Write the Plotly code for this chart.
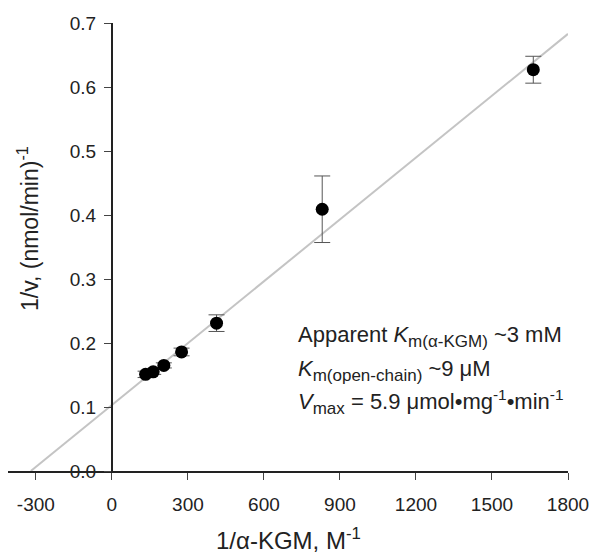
import plotly.graph_objects as go

# Data
inv_kgm = [133, 163, 205, 275, 413, 830, 1663]          # 1/alpha-KGM, M^-1
inv_v = [0.151, 0.155, 0.165, 0.186, 0.231, 0.409, 0.627]  # 1/v, (nmol/min)^-1
inv_v_err = [0.005, 0.004, 0.004, 0.006, 0.013, 0.052, 0.021]

fit_x = [-320, 1800]
fit_y = [0.0, 0.683]

x_ticks = [-300, 0, 300, 600, 900, 1200, 1500, 1800]
y_ticks = [0.0, 0.1, 0.2, 0.3, 0.4, 0.5, 0.6, 0.7]

X_RANGE = [-410, 1800]
Y_RANGE = [0, 0.7]

FONT = "Liberation Sans, Arial, sans-serif"
TXT = "#222222"

fig = go.Figure()
fig.add_trace(go.Scatter(
    x=fit_x, y=fit_y, mode="lines",
    line=dict(color="#c4c4c4", width=2),
    showlegend=False, hoverinfo="skip", cliponaxis=False,
))
fig.add_trace(go.Scatter(
    x=inv_kgm, y=inv_v, mode="markers",
    marker=dict(color="black", size=13),
    error_y=dict(type="data", array=inv_v_err, color="#555555", thickness=1, width=8),
    showlegend=False, cliponaxis=False,
))

yaxis_pos = (0 - X_RANGE[0]) / (X_RANGE[1] - X_RANGE[0])

# The page body has an 8px margin, so the figure is sized/offset to compensate.
fig.update_layout(
    width=593, height=552,
    margin=dict(l=0, r=33, t=15, b=89),
    plot_bgcolor="white", paper_bgcolor="white",
    font=dict(family=FONT, size=19, color=TXT),
    xaxis=dict(
        range=X_RANGE, tickvals=x_ticks, ticktext=[str(v) for v in x_ticks],
        automargin=False,
        showgrid=False, zeroline=False, showline=True, linecolor="#222222", linewidth=2,
        ticks="outside", ticklen=7, tickcolor="#444444", tickwidth=1,
        ticklabelstandoff=8,
        tickfont=dict(size=19, family=FONT, color=TXT),
    ),
    yaxis=dict(
        range=Y_RANGE, tickvals=y_ticks, ticktext=[f"{v:.1f}" for v in y_ticks],
        anchor="free", position=yaxis_pos, automargin=False,
        showgrid=False, zeroline=False, showline=True, linecolor="#222222", linewidth=2,
        ticks="outside", ticklen=7, tickcolor="#444444", tickwidth=1,
        ticklabelstandoff=4,
        tickfont=dict(size=19, family=FONT, color=TXT),
    ),
)


def py(pix):
    # convert a reference pixel row to paper coordinate
    return (471 - pix) / 448


def px(pix):
    return (pix - 8) / 560


SUB = '<sub><span style="font-size:17px">{}</span></sub>'

annotations = [
    dict(text="1/α-KGM, M<sup>-1</sup>", x=0.5, y=py(539), xref="paper", yref="paper",
         showarrow=False, font=dict(size=24, family=FONT, color=TXT),
         xanchor="center", yanchor="middle"),
    dict(text="1/v, (nmol/min)<sup>-1</sup>", x=px(28), y=py(229), xref="paper", yref="paper",
         showarrow=False, textangle=-90, font=dict(size=23, family=FONT, color=TXT),
         xanchor="center", yanchor="middle"),
    dict(text="Apparent <i>K</i>" + SUB.format("m(α-KGM)") + " ~3 mM", x=px(296), y=py(336),
         xref="paper", yref="paper", showarrow=False, xanchor="left", yanchor="middle",
         font=dict(size=22, family=FONT, color=TXT)),
    dict(text="<i>K</i>" + SUB.format("m(open-chain)") + " ~9 μM", x=px(296), y=py(370),
         xref="paper", yref="paper", showarrow=False, xanchor="left", yanchor="middle",
         font=dict(size=22, family=FONT, color=TXT)),
    dict(text="<i>V</i>" + SUB.format("max") + " = 5.9 μmol•mg<sup>-1</sup>•min<sup>-1</sup>",
         x=px(296), y=py(402),
         xref="paper", yref="paper", showarrow=False, xanchor="left", yanchor="middle",
         font=dict(size=22, family=FONT, color=TXT)),
]
fig.update_layout(annotations=annotations)

fig.write_html("out.html")
